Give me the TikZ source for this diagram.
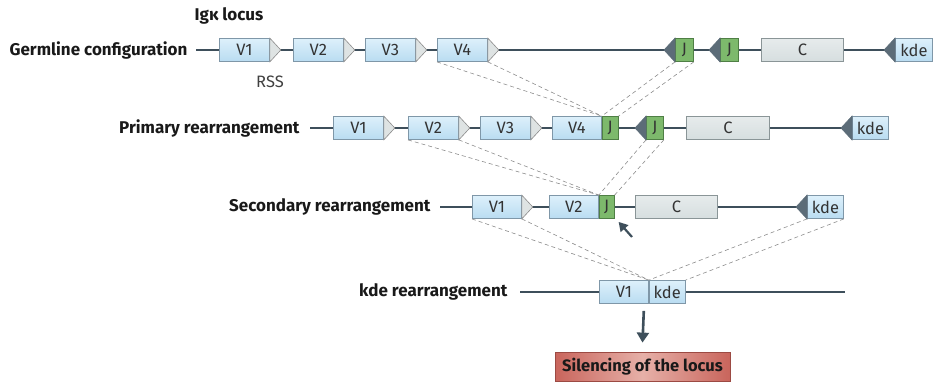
\documentclass[tikz,border=0pt]{standalone}
\usepackage{fontspec}
\setmainfont{Fira Sans}
\usetikzlibrary{positioning,arrows.meta,calc}
\definecolor{bbone}{HTML}{3E4F5B}
\definecolor{vtop}{HTML}{DDF0FB}
\definecolor{vbot}{HTML}{B9DCF1}
\definecolor{vedge}{HTML}{7F97A8}
\definecolor{jfill}{HTML}{7DB96C}
\definecolor{jedge}{HTML}{4F7F45}
\definecolor{cfill}{HTML}{D6DEDF}
\definecolor{cedge}{HTML}{8A9597}
\definecolor{rssfill}{HTML}{DEE3E3}
\definecolor{invfill}{HTML}{5C6C78}
\definecolor{silred}{HTML}{C9655C}
\definecolor{silmid}{HTML}{E6B0A8}
\definecolor{siledge}{HTML}{9C4A43}
\tikzset{
  seg/.style={rectangle, anchor=west, minimum height=23, inner sep=0pt, line width=0.8pt,
              font=\fontsize{16.5}{16.5}\selectfont, text=black!80},
  vseg/.style={seg, draw=vedge, top color=vtop, bottom color=vbot},
  jseg/.style={seg, draw=jedge, fill=jfill, minimum width=17},
  cseg/.style={seg, draw=cedge, top color=cfill!60, bottom color=cfill},
  rowlbl/.style={anchor=east, font=\bfseries\fontsize{17}{17}\selectfont, text=black!90},
  bbline/.style={draw=bbone, line width=2pt},
  dashln/.style={draw=black!45, dashed, dash pattern=on 4pt off 3pt, line width=0.6pt},
  rsstri/.style={draw=black!45, fill=rssfill, line width=0.6pt},
  invtri/.style={draw=invfill, fill=invfill, line width=0.6pt},
}
\newcommand\rssat[1]{\filldraw[rsstri] (#1.north east) -- ($(#1.east)+(11,0)$) -- (#1.south east) -- cycle;}
\newcommand\invat[1]{\filldraw[invtri] (#1.north west) -- ($(#1.west)+(-11,0)$) -- (#1.south west) -- cycle;}
\begin{document}
\begin{tikzpicture}[x=1pt,y=-1pt]
\useasboundingbox (0,0) rectangle (934,384);

% germline
\node[font=\bfseries\fontsize{17}{17}\selectfont, text=black!90] (locus) at (229,16) {Igκ locus};
\node[rowlbl] (glbl) at (191,50) {Germline configuration};
\coordinate (gstart) at (196,50);
\coordinate (gend) at (896,50);
\draw[bbline] (gstart) -- (gend);
\node[vseg, minimum width=50] (gv1) at (219,50) {V1};
\node[vseg, minimum width=50] (gv2) at (293,50) {V2};
\node[vseg, minimum width=50] (gv3) at (365,50) {V3};
\node[vseg, minimum width=50] (gv4) at (437,50) {V4};
\node[jseg, minimum width=18] (gj1) at (675,50) {J};
\node[jseg, minimum width=18] (gj2) at (720,50) {J};
\node[cseg, minimum width=82] (gc) at (761,50) {C};
\node[vseg, minimum width=37] (gk) at (895,50) {kde};
\rssat{gv1} \rssat{gv2} \rssat{gv3} \rssat{gv4}
\invat{gj1} \invat{gj2} \invat{gk}
\node[font=\fontsize{16.5}{16.5}\selectfont, text=black!75] (rss) at (270,82) {RSS};

% primary
\node[rowlbl] (plbl) at (303,128) {Primary rearrangement};
\coordinate (pstart) at (310,128);
\coordinate (pend) at (852,128);
\draw[bbline] (pstart) -- (pend);
\node[vseg, minimum width=50] (pv1) at (333,128) {V1};
\node[vseg, minimum width=50] (pv2) at (408,128) {V2};
\node[vseg, minimum width=50] (pv3) at (480,128) {V3};
\node[vseg, minimum width=49] (pv4) at (552,128) {V4};
\node[jseg, minimum width=16] (pj1) at (pv4.east) {J};
\node[jseg, minimum width=17] (pj2) at (646,128) {J};
\node[cseg, minimum width=83] (pc) at (686,128) {C};
\node[vseg, minimum width=36] (pk) at (852,128) {kde};
\rssat{pv1} \rssat{pv2} \rssat{pv3}
\invat{pj2} \invat{pk}

% secondary
\node[rowlbl] (slbl) at (434,207) {Secondary rearrangement};
\coordinate (sstart) at (440,207);
\coordinate (send) at (807,207);
\draw[bbline] (sstart) -- (send);
\node[vseg, minimum width=49] (sv1) at (472,207) {V1};
\node[vseg, minimum width=49] (sv2) at (549,207) {V2};
\node[jseg, minimum width=15] (sj) at (sv2.east) {J};
\node[cseg, minimum width=82] (sc) at (635,207) {C};
\node[vseg, minimum width=36] (sk) at (807,207) {kde};
\rssat{sv1}
\invat{sk}
\coordinate (mark) at (632,237);
\draw[bbone, line width=2.2pt, -{Triangle[length=9pt,width=10pt]}] (mark) -- ($(sj.south east)+(4,3)$);

% kde
\node[rowlbl] (klbl) at (511,292) {kde rearrangement};
\coordinate (kstart) at (520,292);
\coordinate (kend) at (845,292);
\draw[bbline] (kstart) -- (kend);
\node[vseg, minimum width=49] (kv1) at (599,292) {V1};
\node[vseg, minimum width=36] (kk) at (kv1.east) {kde};

% silencing
\node[rectangle, draw=siledge, line width=0.8pt, left color=silred, right color=silred, middle color=silmid,
      minimum width=175, minimum height=29, font=\bfseries\fontsize{16.5}{16.5}\selectfont, text=black!90]
      (sil) at (642.5,366.5) {Silencing of the locus};
\draw[bbone, line width=2.6pt, -{Triangle[length=10pt,width=12pt]}] ($(kv1.south east)+(-5,7)$) -- ($(sil.north)+(0,-9)$);

% dashed joins
\draw[dashln] (gv4.south west) -- (pv4.north east);
\draw[dashln] (gv4.south east) -- (pv4.north east);
\draw[dashln] (gj1.south west) -- (pj1.north west);
\draw[dashln] (gj1.south east) -- (pj1.north east);
\draw[dashln] (pv2.south west) -- (sv2.north east);
\draw[dashln] (pv2.south east) -- (sv2.north east);
\draw[dashln] (pj2.south west) -- (sj.north west);
\draw[dashln] (pj2.south east) -- (sj.north east);
\draw[dashln] (sv1.south west) -- (kv1.north east);
\draw[dashln] (sv1.south east) -- (kv1.north east);
\draw[dashln] (sk.south west) -- (kk.north west);
\draw[dashln] (sk.south east) -- (kk.north east);
\end{tikzpicture}
\end{document}
